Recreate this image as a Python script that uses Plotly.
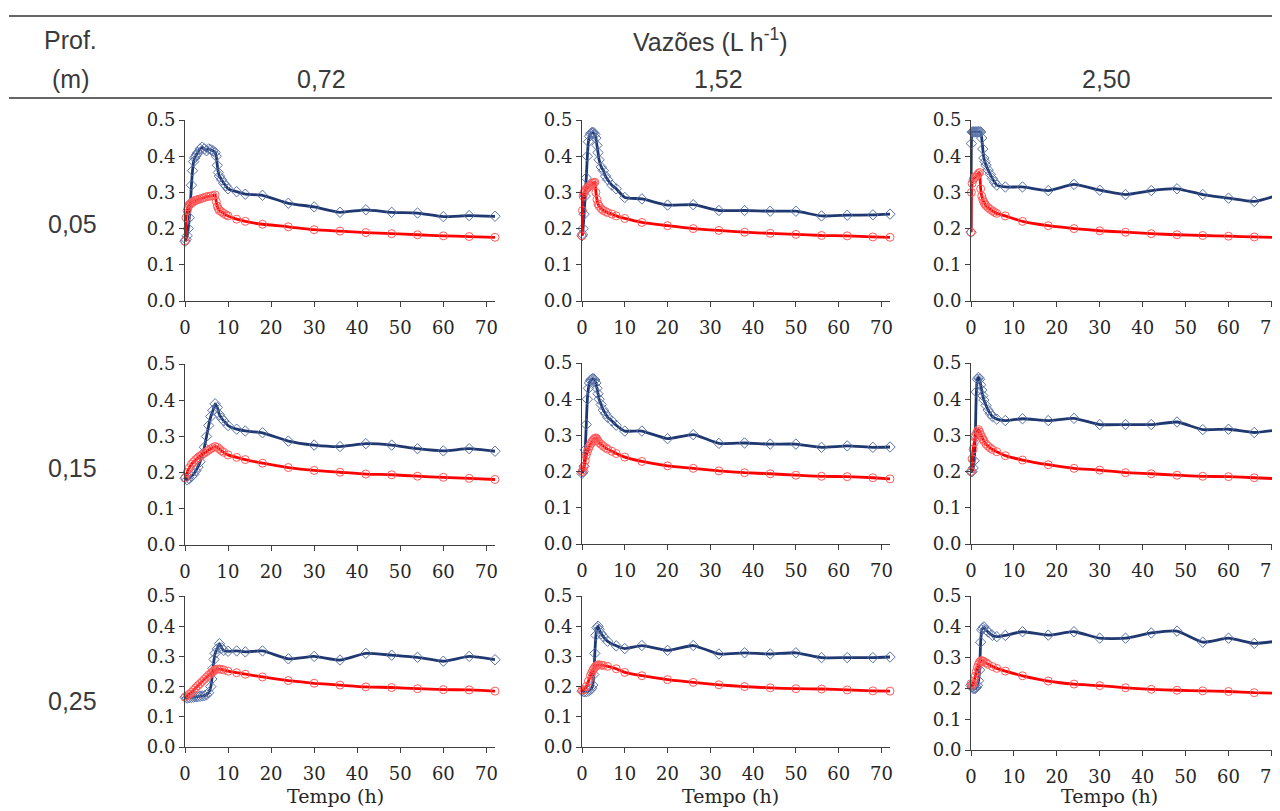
import plotly.graph_objects as go

# ---------------- data ----------------
flow_labels = ["0,72", "1,52", "2,50"]
depth_labels = ["0,05", "0,15", "0,25"]
x_ticks = [0, 10, 20, 30, 40, 50, 60, 70]
y_ticks = [0.0, 0.1, 0.2, 0.3, 0.4, 0.5]

# row 1 (0,05 m)
t_r1c1 = [0, 0.25, 0.5, 0.75, 1, 1.25, 1.5, 1.75, 2, 2.25, 2.5, 2.75, 3, 3.5, 4, 4.5, 5, 5.5, 6, 6.5, 7,
          7.25, 7.5, 7.75, 8, 8.5, 9, 9.5, 10, 12, 14, 18, 24, 30, 36, 42, 48, 54, 60, 66, 72]
blue_r1c1 = [0.165, 0.17, 0.18, 0.2, 0.23, 0.27, 0.32, 0.36, 0.385, 0.395, 0.40, 0.405, 0.41, 0.42, 0.425,
             0.42, 0.415, 0.42, 0.418, 0.415, 0.41, 0.40, 0.375, 0.355, 0.345, 0.335, 0.325, 0.318, 0.31,
             0.302, 0.295, 0.292, 0.27, 0.26, 0.245, 0.252, 0.245, 0.243, 0.233, 0.236, 0.234]
red_r1c1 = [0.165, 0.23, 0.25, 0.26, 0.265, 0.268, 0.27, 0.273, 0.275, 0.277, 0.278, 0.279, 0.28, 0.282,
            0.284, 0.286, 0.288, 0.289, 0.29, 0.291, 0.293, 0.275, 0.262, 0.255, 0.25, 0.246, 0.242, 0.238,
            0.235, 0.226, 0.22, 0.212, 0.205, 0.197, 0.193, 0.189, 0.186, 0.183, 0.18, 0.178, 0.176]

t_r1c2 = [0, 0.1, 0.25, 0.5, 0.75, 1, 1.25, 1.5, 1.75, 2, 2.25, 2.5, 2.75, 3, 3.25, 3.5, 3.75, 4, 4.5, 5,
          5.5, 6, 7, 8, 10, 14, 20, 26, 32, 38, 44, 50, 56, 62, 68, 72]
blue_r1c2 = [0.18, 0.185, 0.2, 0.24, 0.29, 0.34, 0.40, 0.44, 0.455, 0.462, 0.465, 0.465, 0.465, 0.46, 0.45,
             0.43, 0.41, 0.39, 0.37, 0.36, 0.345, 0.335, 0.32, 0.31, 0.286, 0.282, 0.265, 0.266, 0.25, 0.25,
             0.248, 0.248, 0.235, 0.237, 0.238, 0.24]
red_r1c2 = [0.18, 0.25, 0.29, 0.30, 0.305, 0.31, 0.312, 0.315, 0.317, 0.32, 0.322, 0.325, 0.327, 0.328, 0.30,
            0.28, 0.268, 0.262, 0.255, 0.25, 0.247, 0.244, 0.24, 0.235, 0.228, 0.217, 0.208, 0.2, 0.195, 0.19,
            0.187, 0.184, 0.181, 0.18, 0.177, 0.176]

t_r1c3 = [0, 0.1, 0.25, 0.5, 0.75, 1, 1.25, 1.5, 1.75, 2, 2.25, 2.5, 2.75, 3, 3.25, 3.5, 4, 4.5, 5, 5.5, 6,
          8, 12, 18, 24, 30, 36, 42, 48, 54, 60, 66, 72]
blue_r1c3 = [0.19, 0.435, 0.467, 0.467, 0.467, 0.467, 0.467, 0.467, 0.467, 0.467, 0.467, 0.45, 0.42, 0.395,
             0.385, 0.375, 0.362, 0.35, 0.338, 0.328, 0.32, 0.315, 0.315, 0.305, 0.322, 0.306, 0.294, 0.305,
             0.31, 0.294, 0.284, 0.275, 0.294]
red_r1c3 = [0.19, 0.30, 0.325, 0.335, 0.34, 0.342, 0.345, 0.348, 0.352, 0.355, 0.31, 0.29, 0.28, 0.273, 0.268,
            0.263, 0.258, 0.253, 0.249, 0.245, 0.242, 0.235, 0.22, 0.208, 0.2, 0.194, 0.19, 0.186, 0.183, 0.181,
            0.179, 0.177, 0.175]

# row 2 (0,15 m)
t_r2c1 = [0, 0.5, 1, 1.5, 2, 2.5, 3, 3.5, 4, 4.5, 5, 5.5, 6, 6.5, 7, 7.5, 8, 8.5, 9, 10, 12, 14, 18, 24, 30,
          36, 42, 48, 54, 60, 66, 72]
blue_r2c1 = [0.185, 0.18, 0.183, 0.19, 0.195, 0.205, 0.215, 0.23, 0.25, 0.27, 0.30, 0.33, 0.355, 0.372, 0.39,
             0.38, 0.36, 0.35, 0.343, 0.33, 0.32, 0.315, 0.31, 0.287, 0.276, 0.272, 0.28, 0.276, 0.266, 0.26,
             0.266, 0.259]
red_r2c1 = [0.185, 0.2, 0.213, 0.223, 0.23, 0.236, 0.241, 0.246, 0.25, 0.254, 0.258, 0.262, 0.266, 0.269,
            0.272, 0.27, 0.265, 0.26, 0.256, 0.249, 0.242, 0.236, 0.226, 0.214, 0.206, 0.201, 0.196, 0.194,
            0.19, 0.187, 0.184, 0.181]

t_r2c2 = [0, 0.25, 0.5, 0.75, 1, 1.25, 1.5, 1.75, 2, 2.25, 2.5, 2.75, 3, 3.25, 3.5, 3.75, 4, 4.5, 5, 5.5, 6,
          7, 8, 10, 14, 20, 26, 32, 38, 44, 50, 56, 62, 68, 72]
blue_r2c2 = [0.195, 0.2, 0.215, 0.26, 0.33, 0.4, 0.43, 0.445, 0.452, 0.455, 0.457, 0.456, 0.453, 0.445, 0.43,
             0.415, 0.4, 0.385, 0.37, 0.36, 0.35, 0.34, 0.328, 0.312, 0.312, 0.291, 0.302, 0.278, 0.279,
             0.276, 0.276, 0.267, 0.271, 0.267, 0.268]
red_r2c2 = [0.2, 0.205, 0.215, 0.23, 0.245, 0.255, 0.263, 0.27, 0.276, 0.281, 0.285, 0.289, 0.292, 0.293,
            0.29, 0.285, 0.28, 0.275, 0.27, 0.266, 0.262, 0.256, 0.25, 0.24, 0.228, 0.216, 0.209, 0.202,
            0.197, 0.194, 0.19, 0.187, 0.186, 0.183, 0.18]

t_r2c3 = [0, 0.25, 0.5, 0.75, 1, 1.25, 1.5, 1.75, 2, 2.25, 2.5, 2.75, 3, 3.5, 4, 4.5, 5, 6, 8, 12, 18, 24,
          30, 36, 42, 48, 54, 60, 66, 72]
blue_r2c3 = [0.2, 0.2, 0.21, 0.23, 0.3, 0.42, 0.455, 0.46, 0.455, 0.44, 0.425, 0.41, 0.398, 0.383, 0.37,
             0.36, 0.352, 0.345, 0.341, 0.346, 0.341, 0.347, 0.33, 0.33, 0.33, 0.337, 0.316, 0.317, 0.308,
             0.316]
red_r2c3 = [0.2, 0.235, 0.262, 0.28, 0.295, 0.305, 0.312, 0.316, 0.31, 0.302, 0.296, 0.29, 0.285, 0.276,
            0.27, 0.265, 0.261, 0.255, 0.244, 0.232, 0.219, 0.209, 0.204, 0.197, 0.194, 0.19, 0.187, 0.186,
            0.183, 0.18]

# row 3 (0,25 m)
t_r3c1 = [0, 0.5, 1, 1.5, 2, 2.5, 3, 3.5, 4, 4.5, 5, 5.5, 6, 6.25, 6.5, 6.75, 7, 7.5, 8, 8.5, 9, 10, 12,
          14, 18, 24, 30, 36, 42, 48, 54, 60, 66, 72]
blue_r3c1 = [0.165, 0.162, 0.163, 0.164, 0.165, 0.166, 0.167, 0.168, 0.169, 0.17, 0.173, 0.18, 0.2, 0.225,
             0.26, 0.29, 0.31, 0.325, 0.342, 0.328, 0.32, 0.317, 0.318, 0.315, 0.318, 0.292, 0.3, 0.288,
             0.31, 0.304, 0.297, 0.284, 0.3, 0.289]
red_r3c1 = [0.165, 0.17, 0.175, 0.181, 0.188, 0.196, 0.203, 0.21, 0.217, 0.224, 0.231, 0.238, 0.244, 0.247,
            0.25, 0.253, 0.256, 0.258, 0.258, 0.257, 0.255, 0.251, 0.246, 0.241, 0.232, 0.22, 0.211, 0.205,
            0.199, 0.197, 0.193, 0.19, 0.189, 0.185]

t_r3c2 = [0, 0.5, 1, 1.5, 2, 2.25, 2.5, 2.75, 3, 3.25, 3.5, 3.75, 4, 4.5, 5, 6, 8, 10, 14, 20, 26, 32, 38,
          44, 50, 56, 62, 68, 72]
blue_r3c2 = [0.185, 0.183, 0.183, 0.185, 0.19, 0.195, 0.205, 0.24, 0.31, 0.37, 0.395, 0.4, 0.39, 0.375,
             0.365, 0.35, 0.335, 0.326, 0.336, 0.32, 0.336, 0.308, 0.312, 0.308, 0.312, 0.296, 0.296, 0.296,
             0.298]
red_r3c2 = [0.188, 0.19, 0.2, 0.218, 0.237, 0.245, 0.253, 0.259, 0.264, 0.268, 0.27, 0.272, 0.272, 0.271,
            0.27, 0.267, 0.259, 0.247, 0.236, 0.223, 0.214, 0.206, 0.2, 0.196, 0.193, 0.192, 0.189, 0.186,
            0.185]

t_r3c3 = [0, 0.25, 0.5, 0.75, 1, 1.25, 1.5, 1.75, 2, 2.25, 2.5, 2.75, 3, 3.5, 4, 5, 6, 8, 12, 18, 24, 30,
          36, 42, 48, 54, 60, 66, 72]
blue_r3c3 = [0.21, 0.205, 0.2, 0.2, 0.2, 0.203, 0.21, 0.225, 0.26, 0.35, 0.39, 0.395, 0.4, 0.39, 0.383,
             0.372, 0.368, 0.372, 0.384, 0.373, 0.384, 0.363, 0.363, 0.38, 0.386, 0.35, 0.363, 0.346, 0.355]
red_r3c3 = [0.215, 0.21, 0.215, 0.225, 0.24, 0.255, 0.268, 0.278, 0.285, 0.289, 0.29, 0.289, 0.287, 0.283,
            0.278, 0.271, 0.265, 0.256, 0.241, 0.224, 0.214, 0.209, 0.202, 0.197, 0.194, 0.192, 0.19, 0.186,
            0.184]

panels = [
    [(t_r1c1, blue_r1c1, red_r1c1), (t_r1c2, blue_r1c2, red_r1c2), (t_r1c3, blue_r1c3, red_r1c3)],
    [(t_r2c1, blue_r2c1, red_r2c1), (t_r2c2, blue_r2c2, red_r2c2), (t_r2c3, blue_r2c3, red_r2c3)],
    [(t_r3c1, blue_r3c1, red_r3c1), (t_r3c2, blue_r3c2, red_r3c2), (t_r3c3, blue_r3c3, red_r3c3)],
]

# ---------------- layout geometry (screen pixels) ----------------
# The page body has an 8 px margin, so the figure is drawn 8 px in from the window corner.
OFF = 8
W, H = 1280 - OFF, 811 - OFF


def px(x):
    return (x - OFF) / W


def py(y):
    return 1 - (y - OFF) / H


col_px = [(185, 495), (582, 890), (971, 1280)]
row_px = [[(120, 301), (120, 301), (120, 301)],
          [(364, 545), (363, 544), (363, 544)],
          [(596, 747), (596, 747), (596, 750)]]

BLUE = "#1f3870"
BLUE_MK = "#5a72a8"
RED = "#ff0000"
RED_MK = "#ff5a5a"
AXIS = "#404040"
TICKFONT = dict(family="DejaVu Serif", size=18, color="#262626")
HEADFONT = dict(family="Liberation Sans", size=25, color="#3a3a3a")

fig = go.Figure()
layout = dict(width=W, height=H, margin=dict(l=0, r=0, t=0, b=0, pad=0, autoexpand=False),
              paper_bgcolor="white", plot_bgcolor="white", showlegend=False)

k = 0
for r in range(3):
    for c in range(3):
        k += 1
        t, b, rd = panels[r][c]
        xa = "x" if k == 1 else f"x{k}"
        ya = "y" if k == 1 else f"y{k}"
        fig.add_trace(go.Scatter(x=t, y=b, mode="lines+markers", xaxis=xa, yaxis=ya,
                                 line=dict(color=BLUE, width=2.8, shape="spline", smoothing=0.5),
                                 marker=dict(symbol="diamond-open", size=8, color=BLUE_MK,
                                             line=dict(width=1)),
                                 cliponaxis=False))
        fig.add_trace(go.Scatter(x=t, y=rd, mode="lines+markers", xaxis=xa, yaxis=ya,
                                 line=dict(color=RED, width=2.8, shape="spline", smoothing=0.5),
                                 marker=dict(symbol="circle-open", size=8, color=RED_MK,
                                             line=dict(width=1)),
                                 cliponaxis=False))
        x0, x1 = col_px[c]
        ytop, ybot = row_px[r][c]
        layout["xaxis" if k == 1 else f"xaxis{k}"] = dict(
            domain=[px(x0), min(1.0, px(x1))], range=[0, 72], anchor=ya, automargin=False,
            tickvals=x_ticks, ticks="outside", ticklen=5, tickcolor=AXIS, tickwidth=1,
            showline=True, linecolor=AXIS, linewidth=1, showgrid=False, zeroline=False,
            tickfont=TICKFONT, ticklabelstandoff=5, ticklabeloverflow="allow")
        layout["yaxis" if k == 1 else f"yaxis{k}"] = dict(
            domain=[py(ybot), py(ytop)], range=[0, 0.5], anchor=xa, automargin=False,
            tickvals=y_ticks, tickformat=".1f", ticks="outside", ticklen=5, tickcolor=AXIS,
            tickwidth=1, showline=True, linecolor=AXIS, linewidth=1, showgrid=False,
            zeroline=False, tickfont=TICKFONT)

annotations = []


def ann(text, xs, ys, font):
    annotations.append(dict(text=text, x=px(xs), y=py(ys), xref="paper", yref="paper",
                            showarrow=False, xanchor="center", yanchor="middle", font=font))


ann("Prof.", 70, 40, HEADFONT)
ann("(m)", 70, 79, HEADFONT)
ann("Vazões (L h<sup>-1</sup>)", 710, 40, HEADFONT)
for lbl, xs in zip(flow_labels, [321, 718, 1106]):
    ann(lbl, xs, 79, HEADFONT)
for lbl, ys in zip(depth_labels, [224, 468, 701]):
    ann(lbl, 72, ys, HEADFONT)
for xs in [335, 730, 1109]:
    ann("Tempo (h)", xs, 796, dict(family="DejaVu Serif", size=19, color="#262626"))
layout["annotations"] = annotations

layout["shapes"] = [
    dict(type="line", xref="paper", yref="paper", x0=px(9), x1=1, y0=py(16), y1=py(16),
         line=dict(color="#333333", width=1.5)),
    dict(type="line", xref="paper", yref="paper", x0=px(9), x1=1, y0=py(98), y1=py(98),
         line=dict(color="#333333", width=1.5)),
]

fig.update_layout(**layout)
fig.write_html("out.html")
